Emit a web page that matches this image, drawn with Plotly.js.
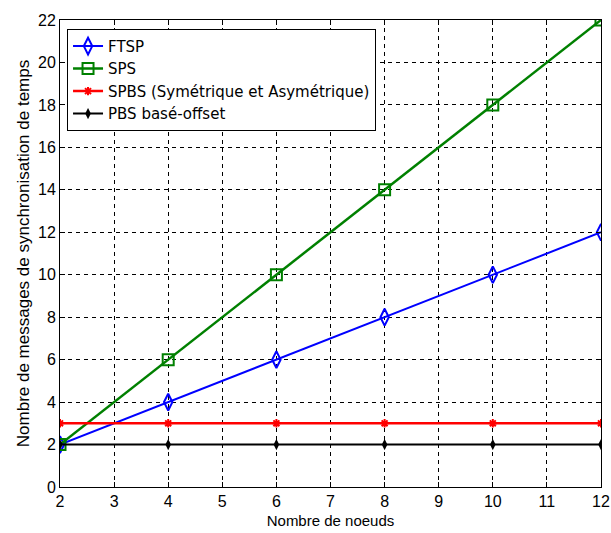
<!DOCTYPE html>
<html><head><meta charset="utf-8">
<script src="https://cdn.plot.ly/plotly-3.0.1.min.js"></script>
<style>body{margin:0;background:#fff}#c{width:611px;height:533px}</style>
</head><body><div id="c"></div>
<script>
var nodes = [2, 4, 6, 8, 10, 12];
var ftsp = [2, 4, 6, 8, 10, 12];
var sps = [2, 6, 10, 14, 18, 22];
var spbs = [3, 3, 3, 3, 3, 3];
var pbs = [2, 2, 2, 2, 2, 2];
var names = ['FTSP', 'SPS', 'SPBS (Symétrique et Asymétrique)', 'PBS basé-offset'];
var xTicks = [2,3,4,5,6,7,8,9,10,11,12];
var yTicks = [0,2,4,6,8,10,12,14,16,18,20,22];
var fnt = "'Liberation Sans', Arial, sans-serif";

var traces = [
 {x: nodes, y: ftsp, name: names[0], mode: 'lines+markers', line: {color: '#0000ff', width: 2},
  marker: {symbol: 'diamond-tall-open', size: 12, color: '#0000ff', line: {width: 2}}},
 {x: nodes, y: sps, name: names[1], mode: 'lines+markers', line: {color: '#008000', width: 2.5},
  marker: {symbol: 'square-open', size: 11, color: '#008000', line: {width: 2}}},
 {x: nodes, y: spbs, name: names[2], mode: 'lines+markers', line: {color: '#ff0000', width: 2.5},
  marker: {symbol: 'asterisk-open', size: 7, color: '#ff0000', line: {width: 2, color: '#ff0000'}}},
 {x: nodes, y: pbs, name: names[3], mode: 'lines+markers', line: {color: '#000000', width: 2},
  marker: {symbol: 'diamond-tall', size: 8, color: '#000000'}}
];
var ax = {
  showline: true, linecolor: '#000', linewidth: 1, mirror: 'ticks',
  ticks: 'inside', ticklen: 5, tickcolor: '#000',
  showgrid: true, gridcolor: '#000', griddash: '4px,4px', gridwidth: 1,
  zeroline: false, tickfont: {family: fnt, size: 16, color: '#000'},
  ticklabeloverflow: 'allow'
};
var layout = {
  width: 611, height: 533,
  margin: {l: 60, r: 10, t: 20, b: 46},
  paper_bgcolor: '#fff', plot_bgcolor: '#fff',
  showlegend: true,
  legend: {x: 0.013, y: 0.981, xanchor: 'left', yanchor: 'top', bgcolor: '#fff',
    bordercolor: '#000', borderwidth: 1, font: {family: "'DejaVu Sans', sans-serif", size: 15, color: '#000'},
    tracegroupgap: 0},
  xaxis: Object.assign({}, ax, {range: [2, 12], tickvals: xTicks,
    title: {text: 'Nombre de noeuds', font: {family: fnt, size: 15, color: '#000'}, standoff: 6}}),
  yaxis: Object.assign({}, ax, {range: [0, 22], tickvals: yTicks,
    title: {text: 'Nombre de messages de synchronisation de temps', font: {family: fnt, size: 17, color: '#000'}, standoff: 4}})
};
Plotly.newPlot('c', traces, layout, {displayModeBar: false, staticPlot: true});
</script></body></html>
